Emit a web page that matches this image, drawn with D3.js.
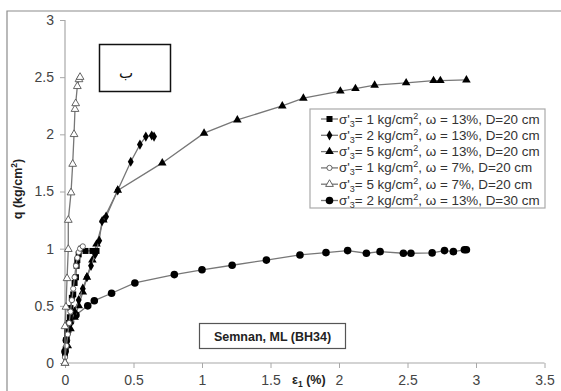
<!DOCTYPE html>
<html><head><meta charset="utf-8">
<script src="https://cdn.jsdelivr.net/npm/d3@7"></script>
<style>body{margin:0;background:#fff}svg{display:block;font-family:Arial,"Liberation Sans",sans-serif}</style>
</head><body>
<svg id="c" width="561" height="391"></svg>
<script>
const xTicks=[0,0.5,1,1.5,2,2.5,3,3.5];
const yTicks=[0,0.5,1,1.5,2,2.5,3];
const legendLabels=[
 ["1","13%","D=20 cm"],["2","13%","D=20 cm"],["5","13%","D=20 cm"],
 ["1","7%","D=20 cm"],["5","7%","D=20 cm"],["2","13%","D=30 cm"]];
const markers=["square","diamond","triangle","circleOpen","triangleOpen","circle"];
const s1x=[0,0.005,0.01,0.015,0.02,0.03,0.035,0.04,0.05,0.06,0.07,0.08,0.085,0.09,0.1,0.12,0.15,0.2,0.23];
const s1y=[0.08,0.12,0.2,0.25,0.3,0.35,0.4,0.48,0.57,0.6,0.7,0.75,0.85,0.9,0.95,1.0,0.98,0.98,0.98];
const s2x=[0,0.01,0.02,0.04,0.07,0.1,0.13,0.16,0.19,0.22,0.25,0.27,0.3,0.385,0.48,0.547,0.59,0.633,0.65];
const s2y=[0.05,0.15,0.25,0.35,0.45,0.55,0.65,0.75,0.85,0.95,1.07,1.24,1.28,1.51,1.76,1.91,1.98,1.99,1.98];
const s3x=[0,0.02,0.04,0.07,0.1,0.13,0.16,0.2,0.23,0.28,0.385,0.71,1.015,1.258,1.586,1.74,2.01,2.12,2.26,2.49,2.69,2.74,2.93];
const s3y=[0,0.15,0.3,0.4,0.5,0.62,0.75,0.9,1.04,1.25,1.51,1.75,2.01,2.126,2.248,2.316,2.378,2.40,2.43,2.45,2.47,2.47,2.476];
const s4x=[0,0.01,0.02,0.03,0.04,0.05,0.06,0.07,0.08,0.09,0.1,0.11,0.13];
const s4y=[0.05,0.15,0.25,0.35,0.45,0.55,0.65,0.75,0.85,0.92,0.97,1.0,1.02];
const s5x=[0,0,0.007,0.015,0.024,0.024,0.044,0.056,0.066,0.073,0.078,0.09,0.102,0.11];
const s5y=[0,0.32,0.49,0.74,0.995,1.25,1.49,1.74,2.0,2.22,2.27,2.42,2.48,2.5];
const s6x=[0,0.01,0.02,0.04,0.08,0.166,0.214,0.34,0.51,0.798,1.0,1.22,1.47,1.715,1.905,2.063,2.2,2.3,2.47,2.525,2.68,2.77,2.835,2.915,2.93];
const s6y=[0.1,0.2,0.28,0.36,0.42,0.5,0.545,0.61,0.70,0.773,0.815,0.855,0.9,0.945,0.965,0.983,0.96,0.974,0.96,0.96,0.963,0.983,0.974,0.99,0.99];
const seriesX=[s1x,s2x,s3x,s4x,s5x,s6x];
const seriesY=[s1y,s2y,s3y,s4y,s5y,s6y];

const svg=d3.select("#c");
const x=d3.scaleLinear().domain([0,3.5]).range([65,544.5]);
const y=d3.scaleLinear().domain([0,3]).range([363,20]);

// frame
svg.append("path").attr("d","M7,391V11H561").attr("fill","none").attr("stroke","#8c8c8c").attr("stroke-width",1.2);

// axes
const gx=svg.append("g").attr("transform","translate(0,363)")
 .call(d3.axisBottom(x).tickValues(xTicks).tickSize(5).tickPadding(7).tickFormat(d3.format("")));
const gy=svg.append("g").attr("transform","translate(65,0)")
 .call(d3.axisLeft(y).tickValues(yTicks).tickSize(5).tickPadding(6).tickFormat(d3.format("")));
[gx,gy].forEach(g=>{
 g.select(".domain").attr("stroke","#a8a8a8").attr("stroke-width",1.2);
 g.selectAll(".tick line").attr("stroke","#a8a8a8");
 g.selectAll("text").attr("fill","#444").style("font-size","14px").style("font-family","Arial, 'Liberation Sans', sans-serif");
});
gx.select(".domain").attr("d","M65,0H544.5");
gy.select(".domain").attr("d","M0,363V20");

// marker drawer
function drawMarker(g,type,cx,cy){
 if(type==="square") g.append("rect").attr("x",cx-3).attr("y",cy-3).attr("width",6).attr("height",6).attr("fill","#000");
 else if(type==="diamond") g.append("path").attr("d",d3.symbol(d3.symbolDiamond,30)()).attr("transform",`translate(${cx},${cy})`).attr("fill","#000");
 else if(type==="triangle") g.append("path").attr("d",d3.symbol(d3.symbolTriangle,32)()).attr("transform",`translate(${cx},${cy})`).attr("fill","#000");
 else if(type==="triangleOpen") g.append("path").attr("d",d3.symbol(d3.symbolTriangle,26)()).attr("transform",`translate(${cx},${cy})`).attr("fill","#fff").attr("stroke","#555").attr("stroke-width",0.9);
 else if(type==="circleOpen") g.append("circle").attr("cx",cx).attr("cy",cy).attr("r",2.6).attr("fill","#fff").attr("stroke","#555").attr("stroke-width",0.9);
 else if(type==="circle") g.append("circle").attr("cx",cx).attr("cy",cy).attr("r",3.8).attr("fill","#000");
}

const line=d3.line().x(d=>x(d[0])).y(d=>y(d[1]));
const order=[5,2,1,0,3,4];
order.forEach(i=>{
 const pts=seriesX[i].map((v,j)=>[v,seriesY[i][j]]);
 const g=svg.append("g");
 g.append("path").attr("d",line(pts)).attr("fill","none").attr("stroke","#777").attr("stroke-width",1.3);
 pts.forEach(p=>drawMarker(g,markers[i],x(p[0]),y(p[1])));
});

// legend
const lg=svg.append("g");
lg.append("rect").attr("x",310).attr("y",109).attr("width",235).attr("height",99).attr("fill","#fff").attr("stroke","#aaa").attr("stroke-width",1.2);
legendLabels.forEach((l,i)=>{
 const cy=119+i*16.3;
 lg.append("line").attr("x1",321).attr("x2",338).attr("y1",cy).attr("y2",cy).attr("stroke","#777").attr("stroke-width",1.3);
 drawMarker(lg,markers[i],329.5,cy);
 const t=lg.append("text").attr("x",339).attr("y",cy+4.5).attr("fill","#333").style("font-size","13.4px");
 t.append("tspan").text("σ'");
 t.append("tspan").attr("dy",3).style("font-size","9px").text("3");
 t.append("tspan").attr("dy",-3).text(`= ${l[0]} kg/cm`);
 t.append("tspan").attr("dy",-5).style("font-size","9px").text("2");
 t.append("tspan").attr("dy",5).text(`, ω = ${l[1]}, ${l[2]}`);
});

// Semnan box
svg.append("rect").attr("x",199.5).attr("y",323.5).attr("width",146).attr("height",25).attr("fill","#fff").attr("stroke","#555").attr("stroke-width",1.2);
svg.append("text").attr("x",272.5).attr("y",341).attr("text-anchor","middle").attr("font-weight","bold").style("font-size","12.5px").attr("fill","#222").text("Semnan, ML (BH34)");

// ب box
svg.append("rect").attr("x",99.5).attr("y",44.5).attr("width",71).attr("height",47).attr("fill","#fff").attr("stroke","#111").attr("stroke-width",1.5);
svg.append("text").attr("x",126).attr("y",78).attr("text-anchor","middle").style("font-size","15px").style("font-family","'DejaVu Sans',sans-serif").attr("fill","#111").text("ب");

// axis titles
const yt=svg.append("text").attr("transform","translate(22,189) rotate(-90)").attr("text-anchor","middle").attr("font-weight","bold").style("font-size","12.5px").attr("fill","#222");
yt.append("tspan").text("q (kg/cm");
yt.append("tspan").attr("dy",-5).style("font-size","8.5px").text("2");
yt.append("tspan").attr("dy",5).text(")");
const xt=svg.append("text").attr("x",292).attr("y",384).attr("font-weight","bold").style("font-size","12.5px").attr("fill","#222");
xt.append("tspan").text("ε");
xt.append("tspan").attr("dy",3).style("font-size","8.5px").text("1");
xt.append("tspan").attr("dy",-3).text(" (%)");
</script>
</body></html>
